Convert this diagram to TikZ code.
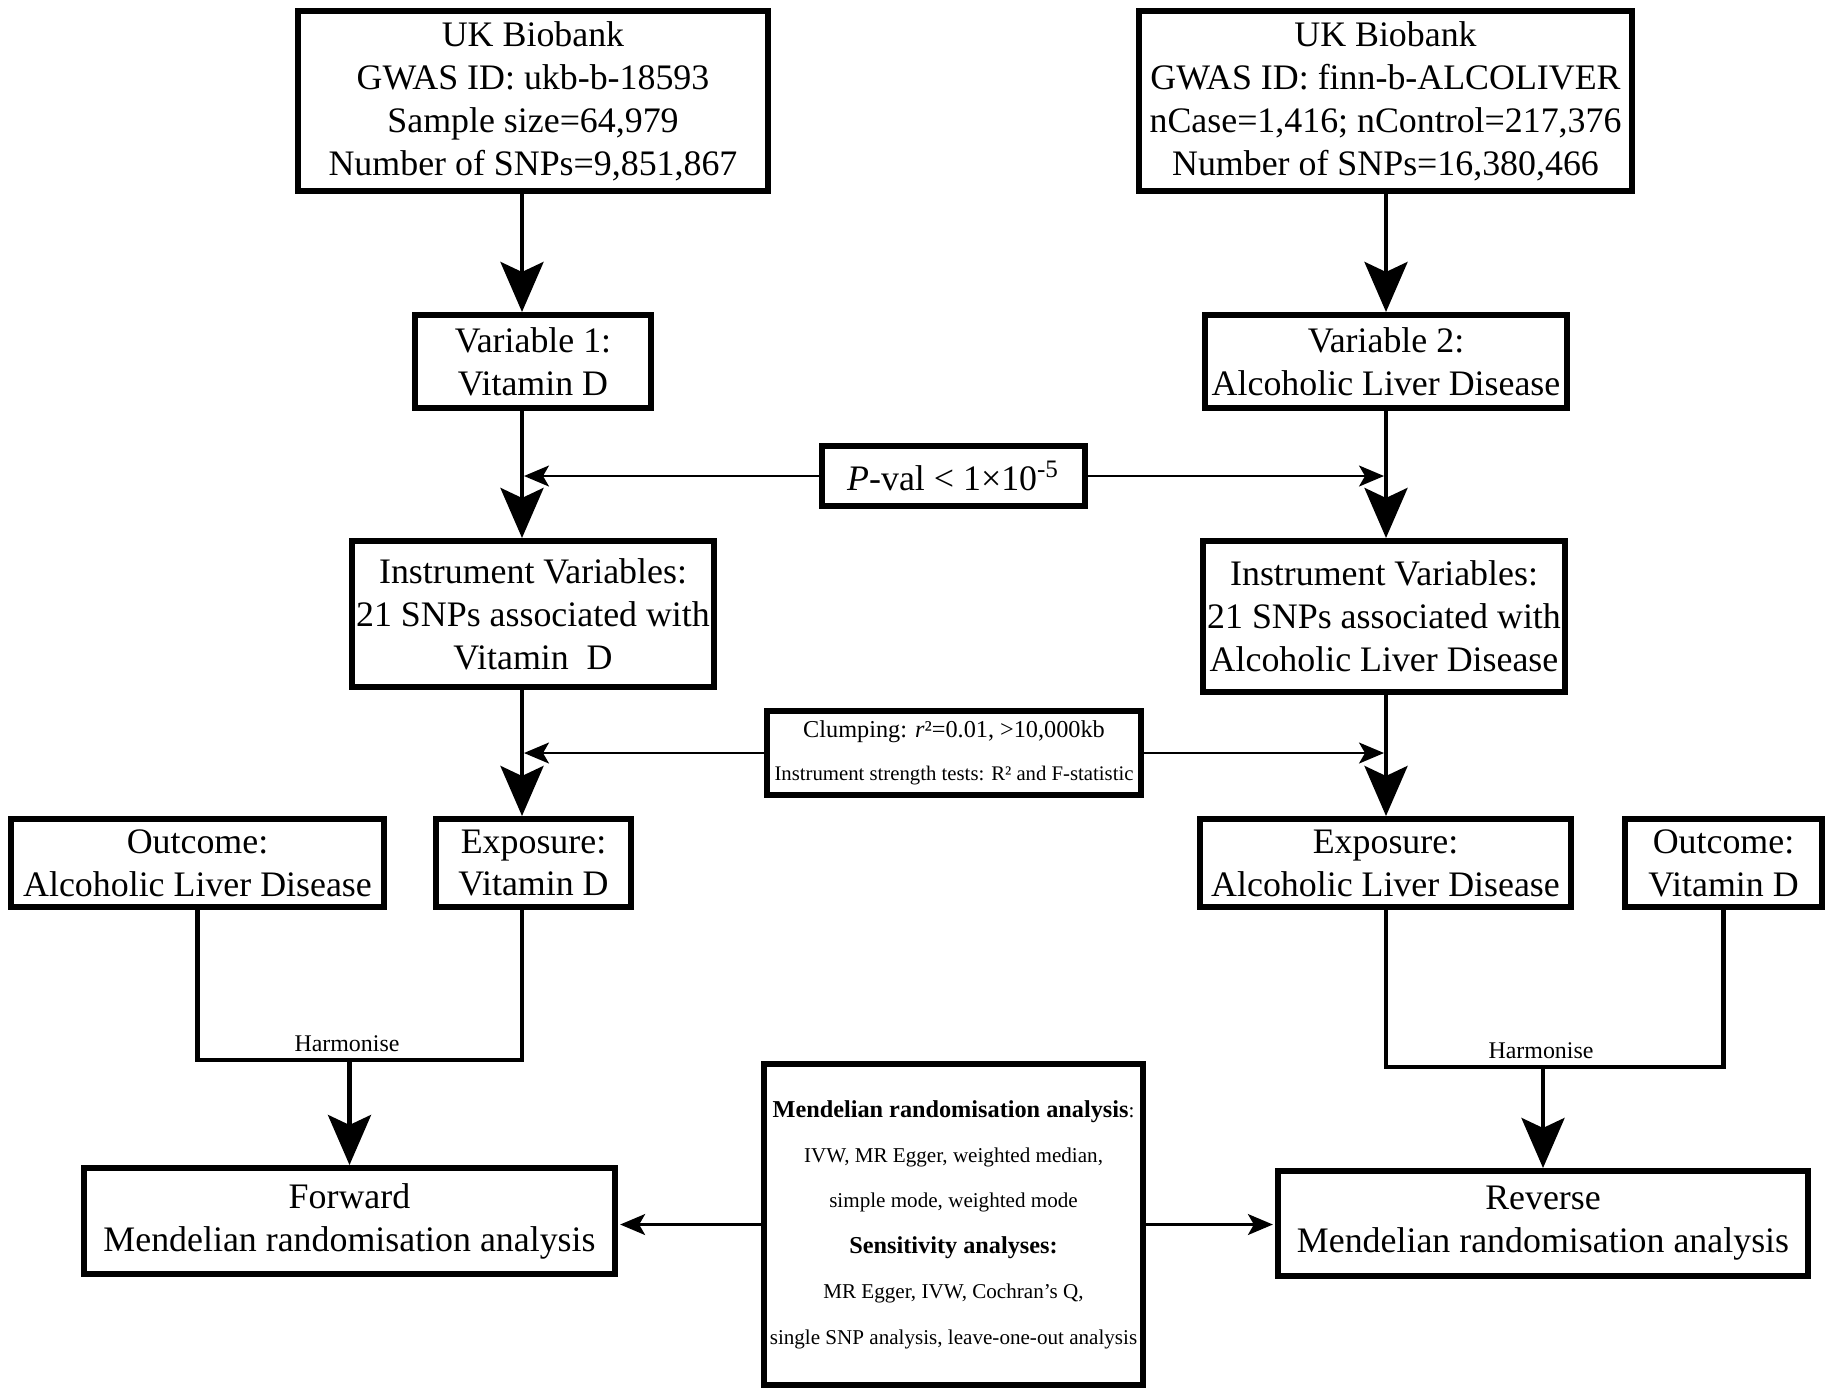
\documentclass[tikz,border=0pt]{standalone}
\usepackage{fontspec}
\setmainfont{Liberation Serif}
\usetikzlibrary{arrows.meta}

\begin{document}
\begin{tikzpicture}[x=0.01cm, y=-0.01cm,
    box/.style={draw, line width=1.7pt, inner sep=0pt, align=center,
        font=\fontsize{10.2}{12.2}\selectfont},
    bigarr/.style={line width=1.2pt,
        -{Stealth[length=0.5cm, width=0.43cm, inset=0.1cm]}},
    smallarr/.style={line width=0.6pt, shorten >=0.02cm,
        -{Stealth[length=0.25cm, width=0.21cm, inset=0.06cm]}},
    link/.style={line width=1.2pt},
    lbl/.style={inner sep=0pt, font=\fontsize{6.8}{8}\selectfont}]
    \useasboundingbox (0,0) rectangle (1831,1396);
    % column lines
    \coordinate (colA) at (522,0);
    \coordinate (colB) at (1386,0);
    % data sources
    \node[box, minimum width=4.70cm, minimum height=1.80cm] (srcA) at (533,101)
        {UK Biobank\\GWAS ID: ukb-b-18593\\Sample size=64,979\\Number of SNPs=9,851,867};
    \node[box, minimum width=4.93cm, minimum height=1.80cm] (srcB) at (1385.5,101)
        {UK Biobank\\GWAS ID: finn-b-ALCOLIVER\\nCase=1,416; nControl=217,376\\Number of SNPs=16,380,466};
    % variables
    \node[box, minimum width=2.36cm, minimum height=0.93cm] (varA) at (533,361.5)
        {Variable 1:\\Vitamin D};
    \node[box, minimum width=3.62cm, minimum height=0.93cm] (varB) at (1386,361.5)
        {Variable 2:\\Alcoholic Liver Disease};
    \node[box, minimum width=2.63cm, minimum height=0.60cm] (pval) at (953.5,476)
        {\textit{P}-val\hspace{0.25em}<\hspace{0.25em}1×10\textsuperscript{-5}};
    % instruments
    \node[box, minimum width=3.62cm, minimum height=1.46cm] (ivA) at (533,614)
        {Instrument Variables:\\21 SNPs associated with\\Vitamin\ \ D};
    \node[box, minimum width=3.62cm, minimum height=1.51cm] (ivB) at (1384,616.5)
        {Instrument Variables:\\21 SNPs associated with\\Alcoholic Liver Disease};
    \node[box, minimum width=3.74cm, minimum height=0.84cm] (clump) at (954,753)
        {{\fontsize{6.9}{13.4}\selectfont Clumping: \textit{r}²=0.01, >10,000kb}\\
         {\fontsize{5.9}{13.4}\selectfont Instrument strength tests: R² and F-statistic}};
    % exposure and outcome
    \node[box, minimum width=3.73cm, minimum height=0.88cm] (outA) at (197.5,863)
        {Outcome:\\Alcoholic Liver Disease};
    \node[box, minimum width=1.95cm, minimum height=0.88cm] (expA) at (533.5,863)
        {Exposure:\\Vitamin D};
    \node[box, minimum width=3.71cm, minimum height=0.88cm] (expB) at (1385.5,863)
        {Exposure:\\Alcoholic Liver Disease};
    \node[box, minimum width=1.97cm, minimum height=0.88cm] (outB) at (1723.5,863)
        {Outcome:\\Vitamin D};
    % analyses
    \node[box, minimum width=5.31cm, minimum height=1.06cm] (fwd) at (349.5,1221)
        {Forward\\Mendelian randomisation analysis};
    \node[box, minimum width=5.30cm, minimum height=1.05cm] (rev) at (1543,1223.5)
        {Reverse\\Mendelian randomisation analysis};
    \node[box, minimum width=3.79cm, minimum height=3.21cm,
        font=\fontsize{6}{12.9}\selectfont] (mrbox) at (953.5,1224.5)
        {{\fontsize{6.9}{12.9}\selectfont\bfseries Mendelian randomisation analysis}:\\
         IVW, MR Egger, weighted median,\\
         simple mode, weighted mode\\
         {\fontsize{6.9}{12.9}\selectfont\bfseries Sensitivity analyses:}\\
         MR Egger, IVW, Cochran’s Q,\\
         single SNP analysis, leave-one-out analysis};
    % vertical flow
    \draw[bigarr] (srcA.south -| colA) -- (varA.north -| colA);
    \draw[bigarr] (varA.south -| colA) -- (ivA.north -| colA);
    \draw[bigarr] (ivA.south -| colA) -- (expA.north -| colA);
    \draw[bigarr] (srcB.south -| colB) -- (varB.north -| colB);
    \draw[bigarr] (varB.south -| colB) -- (ivB.north -| colB);
    \draw[bigarr] (ivB.south -| colB) -- (expB.north -| colB);
    % thresholds
    \draw[smallarr] (pval.west) -- (pval.west -| colA);
    \draw[smallarr] (pval.east) -- (pval.east -| colB);
    \draw[smallarr] (clump.west) -- (clump.west -| colA);
    \draw[smallarr] (clump.east) -- (clump.east -| colB);
    % harmonise
    \coordinate (hA) at (349.5,1060);
    \coordinate (hB) at (1543,1067);
    \draw[link] (outA.south) |- (hA) -| (expA.south -| colA);
    \draw[link] (expB.south -| colB) |- (hB) -| (outB.south);
    \node[lbl, anchor=base] (harmA) at (347,1051) {Harmonise};
    \node[lbl, anchor=base] (harmB) at (1541,1058) {Harmonise};
    \draw[bigarr] (hA) -- (fwd.north);
    \draw[bigarr] (hB) -- (rev.north);
    % MR methods
    \draw[smallarr] (mrbox.west) -- (mrbox.west -| fwd.east);
    \draw[smallarr] (mrbox.east) -- (mrbox.east -| rev.west);
\end{tikzpicture}
\end{document}
